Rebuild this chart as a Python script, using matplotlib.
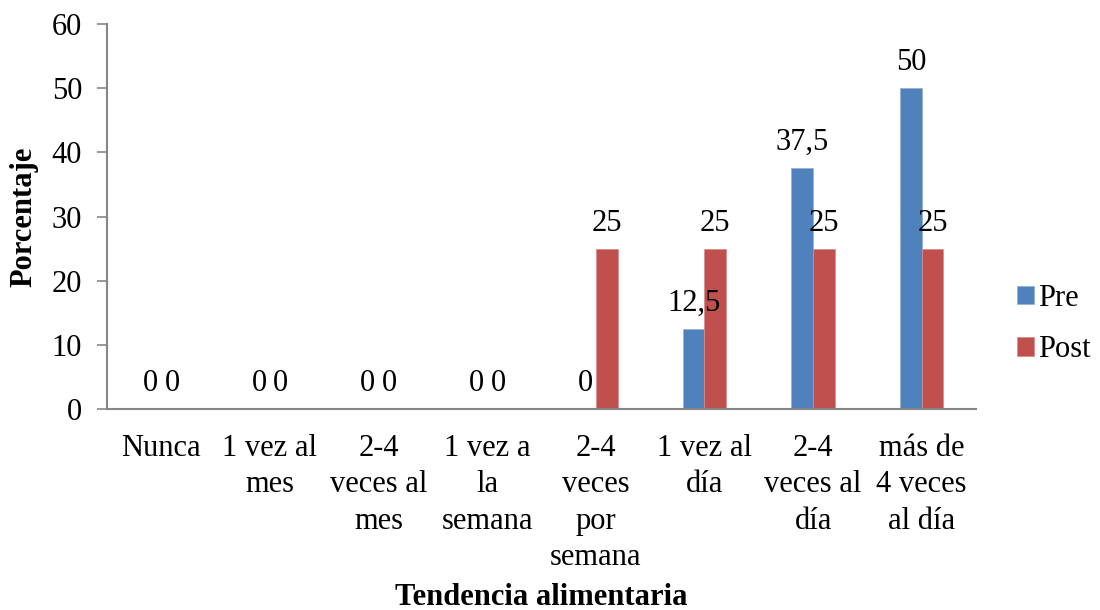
import matplotlib
matplotlib.use("Agg")
import matplotlib.pyplot as plt
import numpy as np

categories = ["Nunca", "1 vez al\nmes", "2-4\nveces al\nmes", "1 vez a\nla\nsemana",
              "2-4\nveces\npor\nsemana", "1 vez al\ndía", "2-4\nveces al\ndía",
              "más de\n4 veces\nal día"]
pre = [0, 0, 0, 0, 0, 12.5, 37.5, 50]
post = [0, 0, 0, 0, 25, 25, 25, 25]
pre_labels = ["0", "0", "0", "0", "0", "12,5", "37,5", "50"]
post_labels = ["0", "0", "0", "0", "25", "25", "25", "25"]
yticks = [0, 10, 20, 30, 40, 50, 60]

plt.rcParams['font.family'] = ['Liberation Serif', 'DejaVu Serif']
FS = 22

fig = plt.figure(figsize=(11, 6.1), dpi=100)
ax = fig.add_axes([107/1100, 1-409/610, (976-107)/1100, (409-24)/610])

x = np.arange(len(categories))
w = 0.2
c_pre = '#4F81BD'
c_post = '#C0504D'
b1 = ax.bar(x - w/2, pre, w, color=c_pre, edgecolor='#8FB0DA', linewidth=0.5, label='Pre')
b2 = ax.bar(x + w/2, post, w, color=c_post, edgecolor='#D88A88', linewidth=0.5, label='Post')

for xi, v, lab in zip(x - w/2, pre, pre_labels):
    ax.annotate(lab, (xi, v), xytext=(0, 13), textcoords='offset points',
                ha='center', va='baseline', fontsize=FS, color='black')
for xi, v, lab in zip(x + w/2, post, post_labels):
    ax.annotate(lab, (xi, v), xytext=(0, 13), textcoords='offset points',
                ha='center', va='baseline', fontsize=FS, color='black')

ax.set_xlim(-0.5, len(categories) - 0.5)
ax.set_ylim(0, 60)
ax.set_yticks(yticks)
ax.set_yticklabels([str(t) for t in yticks], fontsize=FS)
ax.set_xticks(x)
ax.set_xticklabels(categories, fontsize=FS, linespacing=1.33, va='top')
ax.tick_params(axis='x', length=0, pad=18)
ax.tick_params(axis='y', length=7, width=1.2, color='#868686', pad=11, direction='out')

for s in ['top', 'right']:
    ax.spines[s].set_visible(False)
for s in ['left', 'bottom']:
    ax.spines[s].set_color('#868686')
    ax.spines[s].set_linewidth(1.5)

ax.set_ylabel('Porcentaje', fontsize=FS, fontweight='bold')
ax.yaxis.set_label_coords(-0.079, 0.5)
fig.text(541/1100, 1-605/610, 'Tendencia alimentaria', fontsize=FS, fontweight='bold',
         ha='center', va='baseline')

fig.legend(handles=[b1, b2], labels=['Pre', 'Post'], loc='center left',
           bbox_to_anchor=(1017/1100, 1-324/610), frameon=False, fontsize=FS,
           handlelength=0.55, handleheight=0.55, handletextpad=0.15, labelspacing=0.75,
           borderpad=0, borderaxespad=0)

fig.savefig('out.png', dpi=100)
